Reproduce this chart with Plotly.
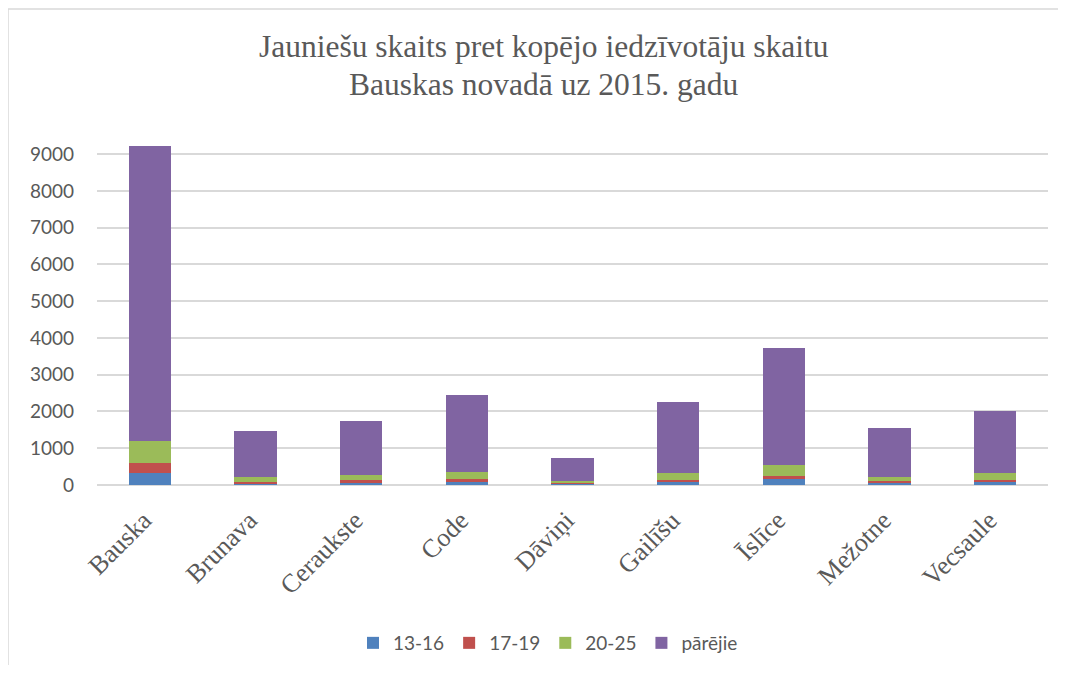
import plotly.graph_objects as go

categories = ["Bauska", "Brunava", "Ceraukste", "Code", "Dāviņi", "Gailīšu", "Īslīce", "Mežotne", "Vecsaule"]
age_13_16 = [335, 50, 75, 100, 30, 70, 150, 60, 70]
age_17_19 = [255, 40, 50, 50, 25, 60, 85, 45, 70]
age_20_25 = [606, 140, 140, 210, 55, 190, 305, 125, 175]
parejie = [8024, 1240, 1485, 2090, 615, 1930, 3180, 1310, 1710]

series = [
    ("13-16", age_13_16, "#4F81BD"),
    ("17-19", age_17_19, "#C0504D"),
    ("20-25", age_20_25, "#9BBB59"),
    ("pārējie", parejie, "#8064A2"),
]

fig = go.Figure()
for name, vals, color in series:
    fig.add_trace(go.Bar(x=categories, y=vals, name=name,
                         marker=dict(color=color, line=dict(width=0))))

OFF = 8  # page body margin
W, H = 1050, 657
# screen coordinates of the plot area
SL, SR, ST, SB = 97, 1048, 145, 485
L, T = SL - OFF, ST - OFF
R = W - (SR - OFF)
B = H - (SB - OFF)
pw, ph = W - L - R, H - T - B

def px(x):
    return (x - OFF - L) / pw

def py(y):
    return (H - B - (y - OFF)) / ph

title_font = dict(family="Liberation Serif, Times New Roman, serif", size=31.5, color="#595959")
fig.update_layout(
    width=W, height=H,
    margin=dict(l=L, r=R, t=T, b=B, autoexpand=False),
    barmode="stack",
    bargap=0.6,
    plot_bgcolor="white",
    paper_bgcolor="white",
    showlegend=True,
    legend=dict(orientation="h", x=px(548), xanchor="center", y=py(643), yanchor="middle",
                font=dict(family="Lato, Calibri, sans-serif", size=19, color="#595959"),
                traceorder="normal", itemwidth=30),
    annotations=[
        dict(text="Jauniešu skaits pret kopējo iedzīvotāju skaitu", xref="paper", yref="paper",
             x=px(544), y=py(47), xanchor="center", yanchor="middle", showarrow=False, font=title_font),
        dict(text="Bauskas novadā uz 2015. gadu", xref="paper", yref="paper",
             x=px(544), y=py(85), xanchor="center", yanchor="middle", showarrow=False, font=title_font),
    ],
    shapes=[
        dict(type="line", xref="paper", yref="paper", x0=px(8), x1=px(8), y0=py(9), y1=py(680),
             line=dict(color="#D9D9D9", width=1.5)),
        dict(type="line", xref="paper", yref="paper", x0=px(8), x1=px(1062), y0=py(9), y1=py(9),
             line=dict(color="#D9D9D9", width=1.5)),
    ],
)
fig.update_yaxes(range=[0, 9250], tick0=0, dtick=1000, showgrid=True, gridcolor="#D9D9D9", gridwidth=1.5,
                 zeroline=True, zerolinecolor="#D9D9D9", zerolinewidth=1.5, showline=False,
                 ticks="", ticklabelstandoff=22, automargin=False,
                 tickfont=dict(family="Lato, Calibri, sans-serif", size=19, color="#595959"))
fig.update_xaxes(tickangle=-45, showline=False, showgrid=False, ticks="", automargin=False,
                 ticklabelstandoff=14, ticklabelshift=-6,
                 tickfont=dict(family="Liberation Serif, Times New Roman, serif", size=26, color="#595959"))

fig.write_html("out.html")
